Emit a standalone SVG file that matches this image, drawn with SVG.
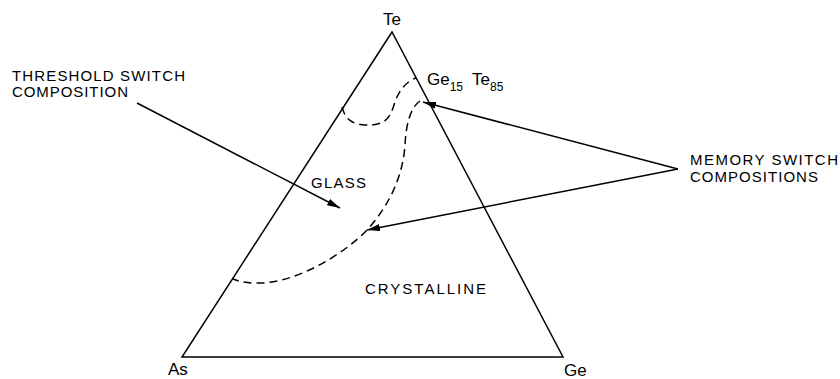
<svg xmlns="http://www.w3.org/2000/svg" width="840" height="379" viewBox="0 0 840 379">
<style>
.ln{fill:none;stroke:#000;stroke-width:1.5;stroke-linejoin:miter}
.dash{fill:none;stroke:#000;stroke-width:1.5;stroke-dasharray:8 5}
.t{font-family:"Liberation Sans",Arial,sans-serif;font-size:15px;fill:#000}
.v{font-size:17px}
.sub{font-size:12px}
</style>
<defs>
<marker id="ah" markerUnits="userSpaceOnUse" markerWidth="14" markerHeight="8" refX="13" refY="3.5" orient="auto">
<path d="M0,0 L13,3.5 L0,7 Z" fill="#000"/>
</marker>
</defs>
<rect width="840" height="379" fill="#fff"/>
<g id="triangle">
<polygon class="ln" points="392,32 182,357 563,357"/>
</g>
<g id="boundaries">
<path class="dash" d="M342,107 C345,118 350,124 365,125 C385,126 390,118 394,105 C398,92 405,82 416,78"/>
<path class="dash" d="M420,101 C410,108 406,125 405,145 C403,175 390,205 367,230 C340,258 290,285 255,283 C245,283 238,281 233,279"/>
</g>
<g id="connectors">
<line class="ln" x1="137" y1="103" x2="340" y2="208" marker-end="url(#ah)"/>
<line class="ln" x1="678" y1="169" x2="423" y2="102" marker-end="url(#ah)"/>
<line class="ln" x1="678" y1="169" x2="367" y2="230" marker-end="url(#ah)"/>
</g>
<g id="vertex-te"><text class="t v" x="383" y="25">Te</text></g>
<g id="vertex-as"><text class="t v" x="168" y="375">As</text></g>
<g id="vertex-ge"><text class="t v" x="564" y="376">Ge</text></g>
<g id="ge15te85"><text class="t v" x="427" y="85">Ge<tspan class="sub" dy="6">15</tspan><tspan dy="-6" dx="9">Te</tspan><tspan class="sub" dy="6">85</tspan></text></g>
<g id="glass"><text class="t" x="311" y="188" textLength="55" lengthAdjust="spacing">GLASS</text></g>
<g id="crystalline"><text class="t" x="365" y="294" textLength="121" lengthAdjust="spacing">CRYSTALLINE</text></g>
<g id="threshold">
<text class="t" x="12" y="81" textLength="173" lengthAdjust="spacing">THRESHOLD SWITCH</text>
<text class="t" x="12" y="97" textLength="116" lengthAdjust="spacing">COMPOSITION</text>
</g>
<g id="memory">
<text class="t" x="690" y="165" textLength="148" lengthAdjust="spacing">MEMORY SWITCH</text>
<text class="t" x="690" y="182" textLength="128" lengthAdjust="spacing">COMPOSITIONS</text>
</g>
</svg>
